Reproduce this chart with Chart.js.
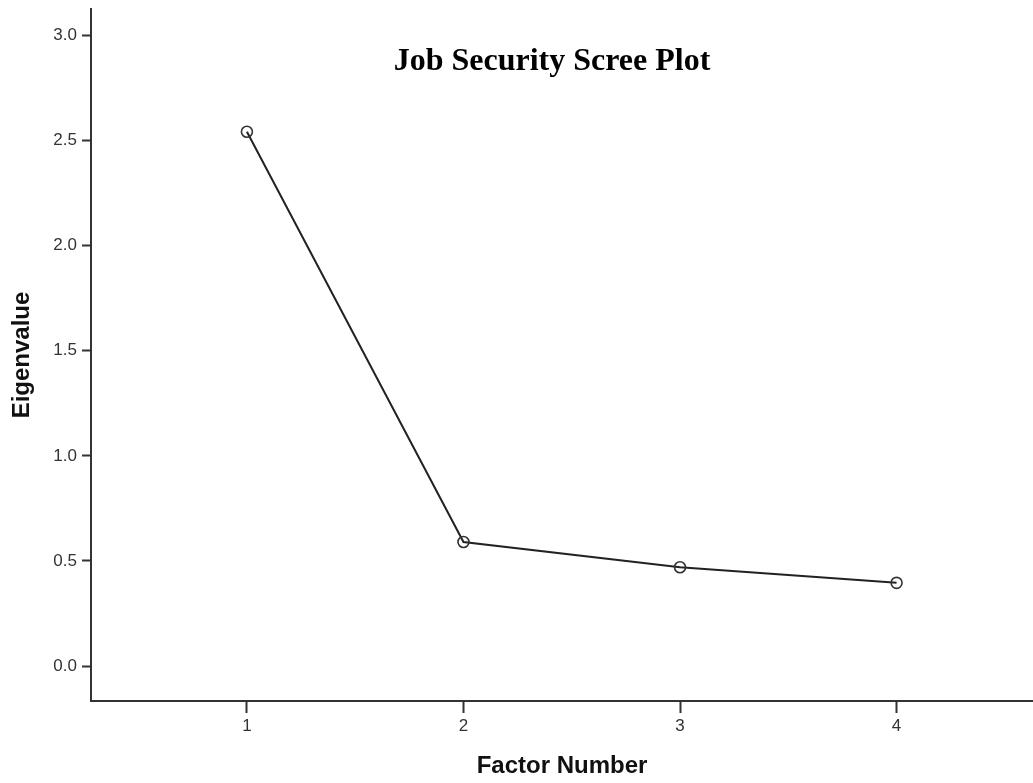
<!DOCTYPE html>
<html lang="en">
<head>
  <meta charset="UTF-8" />
  <title>Job Security Scree Plot</title>
  <script src="https://cdn.jsdelivr.net/npm/chart.js"></script>
  <style>
    html, body { margin: 0; padding: 0; background: #fff; }
    canvas { display: block; }
  </style>
</head>
<body>
  <canvas id="scree" width="1033" height="783"></canvas>

  <script>
    // data
    const factorNumbers = [1, 2, 3, 4];
    const eigenvalues = [2.541, 0.590, 0.470, 0.396];
    const yTickValues = [0.0, 0.5, 1.0, 1.5, 2.0, 2.5, 3.0];
    const xTickValues = [1, 2, 3, 4];
    const chartTitle = 'Job Security Scree Plot';

    const points = factorNumbers.map((f, i) => ({ x: f, y: eigenvalues[i] }));

    // title sits inside the plot area, like the SPSS output
    const innerTitle = {
      id: 'innerTitle',
      afterDraw(chart) {
        const { ctx, chartArea } = chart;
        ctx.save();
        ctx.font = 'bold 32px "Liberation Serif", "Times New Roman", serif';
        ctx.fillStyle = '#000';
        ctx.textAlign = 'center';
        ctx.textBaseline = 'alphabetic';
        ctx.fillText(chartTitle, 552, chartArea.top + 61);
        ctx.restore();
      }
    };

    const tickFont = { family: 'Arial, "Liberation Sans", sans-serif', size: 17 };
    const titleFont = { family: 'Arial, "Liberation Sans", sans-serif', size: 24, weight: 'bold' };

    // fixed axis sizes, no extra label padding around the plot
    const fitX = s => { s.height = 82; s.paddingLeft = 0; s.paddingRight = 0; };
    const fitY = s => { s.width = 91; s.paddingTop = 0; s.paddingBottom = 0; };

    new Chart(document.getElementById('scree'), {
      type: 'scatter',
      data: {
        datasets: [{
          data: points,
          showLine: true,
          borderColor: '#222',
          borderWidth: 2,
          pointRadius: 5.5,
          pointBorderWidth: 1.6,
          pointBorderColor: '#333',
          pointBackgroundColor: 'rgba(0,0,0,0)',
          tension: 0
        }]
      },
      options: {
        responsive: false,
        animation: false,
        layout: { autoPadding: false, padding: { top: 9, right: 0, bottom: 0, left: 0 } },
        plugins: {
          legend: { display: false },
          tooltip: { enabled: false }
        },
        scales: {
          x: {
            type: 'linear',
            min: 0.28,
            max: 4.63,
            afterBuildTicks: s => { s.ticks = xTickValues.map(v => ({ value: v })); },
            afterFit: fitX,
            grid: { drawOnChartArea: false, tickLength: 12, tickColor: '#333', tickWidth: 2 },
            border: { color: '#333', width: 2 },
            ticks: {
              color: '#333',
              padding: 3,
              font: tickFont,
              callback: v => String(v)
            },
            title: {
              display: true,
              text: 'Factor Number',
              color: '#111',
              font: titleFont,
              padding: { top: 0, bottom: 2 }
            }
          },
          y: {
            type: 'linear',
            min: -0.166,
            max: 3.125,
            afterBuildTicks: s => { s.ticks = yTickValues.map(v => ({ value: v })); },
            afterFit: fitY,
            grid: { drawOnChartArea: false, tickLength: 9, tickColor: '#333', tickWidth: 2 },
            border: { color: '#333', width: 2 },
            ticks: {
              color: '#333',
              padding: 5,
              font: tickFont,
              callback: v => Number(v).toFixed(1)
            },
            title: {
              display: true,
              text: 'Eigenvalue',
              color: '#111',
              font: titleFont,
              padding: { top: 8, bottom: 0 }
            }
          }
        }
      },
      plugins: [innerTitle]
    });
  </script>
</body>
</html>
